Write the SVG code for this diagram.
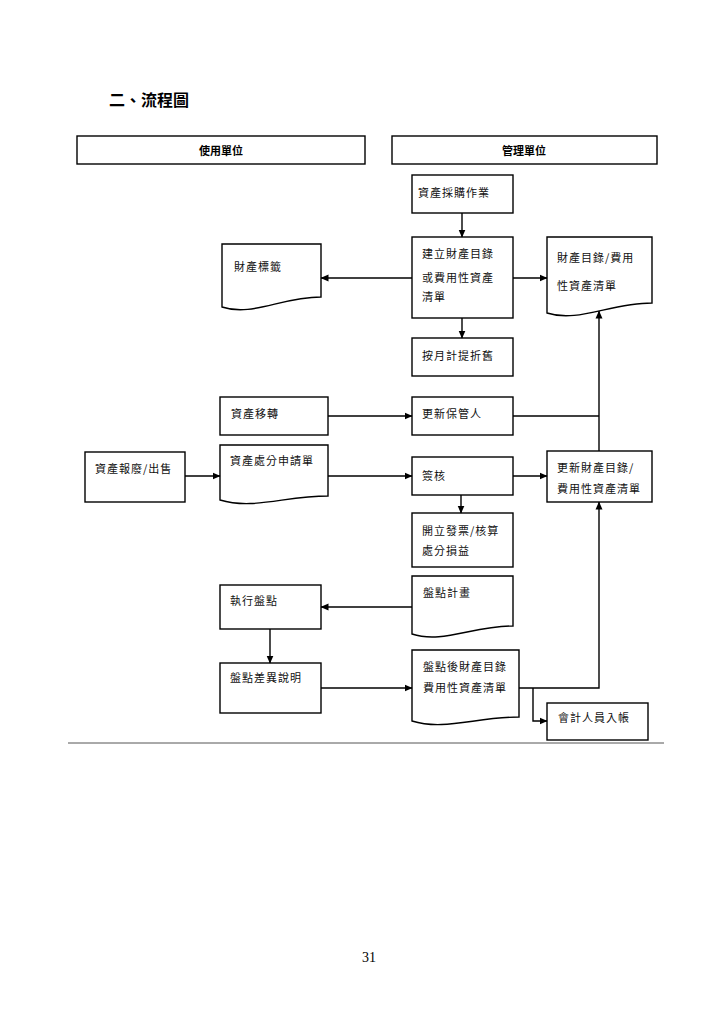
<svg xmlns="http://www.w3.org/2000/svg" width="724" height="1024" viewBox="0 0 724 1024">
<style>
.b{fill:#fff;stroke:#000;stroke-width:1.4}
.t{font-family:"Noto Sans CJK TC","Noto Sans CJK SC",sans-serif;font-size:11px;letter-spacing:1px;fill:#111}
.h{font-family:"Noto Sans CJK TC","Noto Sans CJK SC",sans-serif;font-size:11px;font-weight:bold;fill:#000;text-anchor:middle}
.c{fill:none;stroke:#000;stroke-width:1.4}
</style>
<defs>
<marker id="ah" markerWidth="8" markerHeight="8" refX="7.5" refY="4" orient="auto" markerUnits="userSpaceOnUse">
<path d="M0,0.5 L8,4 L0,7.5 Z" fill="#000"/>
</marker>
</defs>
<rect width="724" height="1024" fill="#fff"/>
<text x="109" y="106" font-family="'Noto Sans CJK TC',sans-serif" font-size="16" font-weight="bold" fill="#000">二、流程圖</text>

<g id="hdr-user"><rect class="b" x="77" y="136" width="288" height="28"/><text class="h" x="221" y="155">使用單位</text></g>
<g id="hdr-mgmt"><rect class="b" x="392" y="136" width="265" height="28"/><text class="h" x="524" y="155">管理單位</text></g>

<g id="n-purchase"><rect class="b" x="412" y="175" width="101" height="38"/><text class="t" x="418" y="197">資產採購作業</text></g>
<g id="n-create"><rect class="b" x="412" y="237" width="101" height="81"/><text class="t" x="422" y="258">建立財產目錄</text><text class="t" x="422" y="282">或費用性資產</text><text class="t" x="422" y="301">清單</text></g>
<g id="n-label"><path class="b" d="M222,244 H321 V297 C281,297 252,317 222,307 Z"/><text class="t" x="234" y="271">財產標籤</text></g>
<g id="n-list"><path class="b" d="M547,237 H652 V303 C610,303 578,323 547,313 Z"/><text class="t" x="557" y="262">財產目錄/費用</text><text class="t" x="557" y="290">性資產清單</text></g>
<g id="n-depr"><rect class="b" x="412" y="338" width="101" height="38"/><text class="t" x="422" y="360">按月計提折舊</text></g>
<g id="n-transfer"><rect class="b" x="220" y="397" width="108" height="38"/><text class="t" x="231" y="418">資產移轉</text></g>
<g id="n-custodian"><rect class="b" x="412" y="397" width="101" height="38"/><text class="t" x="422" y="418">更新保管人</text></g>
<g id="n-scrap"><rect class="b" x="85" y="452" width="100" height="50"/><text class="t" x="95" y="473">資產報廢/出售</text></g>
<g id="n-apply"><path class="b" d="M220,445 H328 V496 C285,496 253,510 220,500 Z"/><text class="t" x="230" y="465">資產處分申請單</text></g>
<g id="n-approve"><rect class="b" x="412" y="457" width="101" height="38"/><text class="t" x="422" y="480">簽核</text></g>
<g id="n-update"><rect class="b" x="547" y="451" width="105" height="51"/><text class="t" x="557" y="472">更新財產目錄/</text><text class="t" x="557" y="493">費用性資產清單</text></g>
<g id="n-invoice"><rect class="b" x="412" y="513" width="101" height="54"/><text class="t" x="422" y="535">開立發票/核算</text><text class="t" x="422" y="555">處分損益</text></g>
<g id="n-plan"><path class="b" d="M412,576 H513 V626 C473,626 442,644 412,634 Z"/><text class="t" x="423" y="597">盤點計畫</text></g>
<g id="n-count"><rect class="b" x="220" y="585" width="101" height="44"/><text class="t" x="230" y="605">執行盤點</text></g>
<g id="n-diff"><rect class="b" x="220" y="663" width="101" height="50"/><text class="t" x="230" y="682">盤點差異說明</text></g>
<g id="n-after"><path class="b" d="M412,650 H519 V717 C476,717 444,731 412,721 Z"/><text class="t" x="423" y="671">盤點後財產目錄</text><text class="t" x="423" y="692">費用性資產清單</text></g>
<g id="n-acct"><rect class="b" x="547" y="703" width="101" height="37"/><text class="t" x="558" y="722">會計人員入帳</text></g>

<g id="connectors">
<line class="c" x1="462" y1="213" x2="462" y2="237" marker-end="url(#ah)"/>
<line class="c" x1="412" y1="278" x2="321" y2="278" marker-end="url(#ah)"/>
<line class="c" x1="513" y1="278" x2="547" y2="278" marker-end="url(#ah)"/>
<line class="c" x1="462" y1="318" x2="462" y2="338" marker-end="url(#ah)"/>
<line class="c" x1="599" y1="451" x2="599" y2="311" marker-end="url(#ah)"/>
<line class="c" x1="513" y1="416" x2="599" y2="416"/>
<line class="c" x1="328" y1="416" x2="412" y2="416" marker-end="url(#ah)"/>
<line class="c" x1="185" y1="476" x2="220" y2="476" marker-end="url(#ah)"/>
<line class="c" x1="328" y1="476" x2="412" y2="476" marker-end="url(#ah)"/>
<line class="c" x1="513" y1="476" x2="547" y2="476" marker-end="url(#ah)"/>
<line class="c" x1="461" y1="495" x2="461" y2="513" marker-end="url(#ah)"/>
<line class="c" x1="412" y1="607" x2="321" y2="607" marker-end="url(#ah)"/>
<line class="c" x1="270" y1="629" x2="270" y2="663" marker-end="url(#ah)"/>
<line class="c" x1="321" y1="688" x2="412" y2="688" marker-end="url(#ah)"/>
<polyline class="c" points="519,688 599,688 599,502" marker-end="url(#ah)"/>
<polyline class="c" points="533,688 533,721 547,721" marker-end="url(#ah)"/>
</g>

<line x1="68" y1="743" x2="664" y2="743" stroke="#555" stroke-width="1"/>
<text x="369" y="962" font-family="'Liberation Serif',serif" font-size="14" text-anchor="middle" fill="#000">31</text>
</svg>
